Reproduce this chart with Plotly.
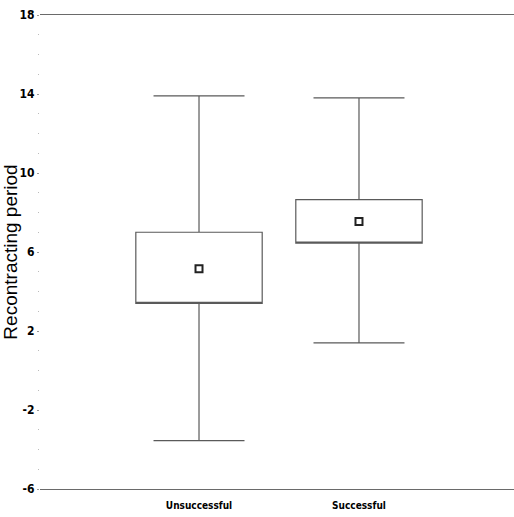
import plotly.graph_objects as go

categories = ["Unsuccessful", "Successful"]
q1 = [3.4, 6.45]
median = [3.4, 6.45]
q3 = [7.0, 8.65]
lower_whisker = [-3.55, 1.4]
upper_whisker = [13.9, 13.8]
means = [5.15, 7.55]
y_ticks = [-6, -2, 2, 6, 10, 14, 18]

xpos = [0, 1]
line_col = "#5a5a5a"
fig = go.Figure()
for i, cat in enumerate(categories):
    fig.add_trace(go.Box(
        x=[xpos[i]], q1=[q1[i]], median=[median[i]], q3=[q3[i]],
        lowerfence=[lower_whisker[i]], upperfence=[upper_whisker[i]],
        width=0.79, whiskerwidth=0.72,
        fillcolor="rgba(255,255,255,0)",
        line=dict(color=line_col, width=1.2),
        boxpoints=False, showlegend=False, name=cat,
    ))
fig.add_trace(go.Scatter(
    x=xpos, y=means, mode="markers",
    marker=dict(symbol="square-open", size=7, color="#222", line=dict(width=2, color="#222")),
    showlegend=False,
))

font_cond = "DejaVu Sans Condensed, Liberation Sans Narrow, Arial Narrow"
fig.update_layout(
    width=514, height=517,
    margin=dict(l=40, r=0, t=15, b=28),
    paper_bgcolor="white", plot_bgcolor="white",
    xaxis=dict(
        range=[-0.994, 1.969], tickvals=xpos, ticktext=categories,
        showgrid=False, zeroline=False, showline=True, mirror=True,
        linecolor="#6a6a6a", linewidth=1.2, ticks="", ticklabelstandoff=7,
        tickfont=dict(family=font_cond, size=10, color="black", weight="bold"),
    ),
    yaxis=dict(
        range=[-6, 18], tickvals=y_ticks, ticktext=[str(v) for v in y_ticks],
        showgrid=False, zeroline=False, showline=False,
        ticks="outside", ticklen=2, tickcolor="#999",
        minor=dict(dtick=1, ticks="outside", ticklen=1, tickcolor="#bbb"),
        tickfont=dict(family=font_cond, size=12, color="black", weight="bold"),
        title=dict(text="Recontracting period", font=dict(family="Liberation Sans, Arial", size=19, color="black"), standoff=1),
    ),
)
fig.write_html("out.html")
